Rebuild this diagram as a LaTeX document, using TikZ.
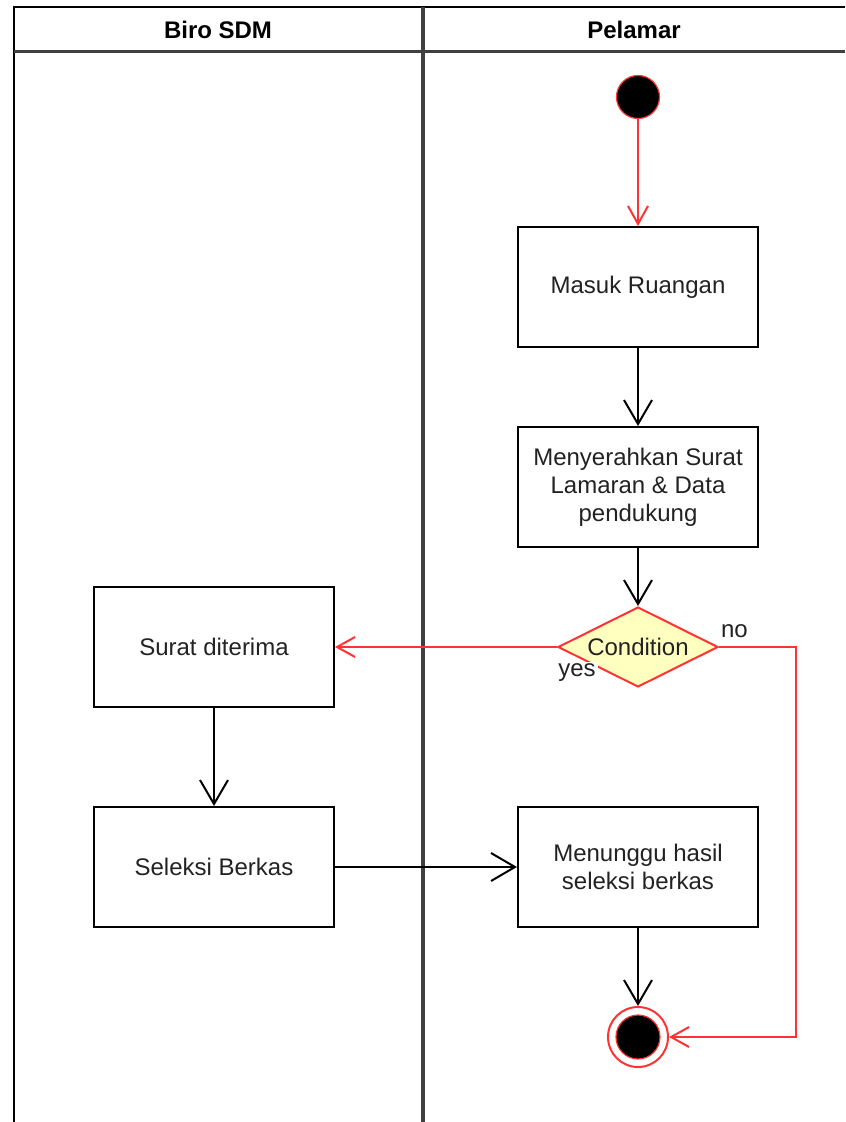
\documentclass[tikz,border=0pt]{standalone}
\usepackage{fontspec}
\setmainfont{Liberation Sans}
\usetikzlibrary{positioning,shapes.geometric,arrows.meta}
\definecolor{flowred}{RGB}{255,51,51}
\definecolor{condfill}{RGB}{255,255,192}
\definecolor{lanegray}{RGB}{64,64,64}
\definecolor{txtgray}{RGB}{34,34,34}
\newcommand{\txt}{\fontsize{12}{14}\selectfont}

\begin{document}
\begin{tikzpicture}[x=0.5pt,y=-0.5pt,
    act/.style={draw, line width=1pt, minimum width=120pt, minimum height=60pt, align=center, font=\txt, text=txtgray},
    cond/.style={diamond, draw=flowred, fill=condfill, line width=1pt, minimum width=80pt, minimum height=40pt, aspect=2, inner sep=0pt, font=\txt, text=txtgray},
    flowlabel/.style={font=\txt, text=txtgray, fill=white, inner sep=1pt},
    blackflow/.style={draw, line width=1pt, -{Straight Barb[length=12pt,width=14pt,line width=1pt]}},
    redflow/.style={draw=flowred, line width=1pt, -{Straight Barb[length=9pt,width=10pt,line width=1pt]}}]
    \useasboundingbox (0,0) rectangle (845,1122);

    % swimlanes
    \draw[line width=1pt] (14,1122) -- (14,7) -- (845,7);
    \draw[lanegray, line width=1.5pt] (14,52) -- (845,52);
    \draw[lanegray, line width=2pt] (423,7) -- (423,1122);
    \node[font=\txt\bfseries] (biro) at (218,30) {Biro SDM};
    \node[font=\txt\bfseries] (pelamar) at (634,30) {Pelamar};

    % pelamar lane
    \node[circle, fill=black, draw=flowred, line width=0.6pt, minimum size=21.5pt, inner sep=0pt] (start) at (638,97) {};
    \node[act] (masuk) at (638,287) {Masuk Ruangan};
    \node[act] (serah) at (638,487) {Menyerahkan Surat\\Lamaran \& Data\\pendukung};
    \node[cond] (condition) at (638,647) {Condition};
    \node[act] (tunggu) at (638,867) {Menunggu hasil\\seleksi berkas};
    \node[circle, draw=flowred, line width=1pt, minimum size=30pt, inner sep=0pt] (end) at (638,1037) {};
    \fill[black, draw=flowred, line width=0.6pt] (end.center) circle (11pt);

    % biro lane
    \node[act] (terima) at (214,647) {Surat diterima};
    \node[act] (seleksi) at (214,867) {Seleksi Berkas};

    % flows
    \draw[redflow] (start) -- (masuk);
    \draw[blackflow] (masuk) -- (serah);
    \draw[blackflow] (serah) -- (condition);
    \draw[redflow] (condition) -- (terima);
    \node[flowlabel, xshift=10pt, yshift=-13pt] (yes) at (condition.west) {yes};
    \coordinate (turn) at (796,647);
    \draw[redflow] (condition.east) -- node[pos=0.2, above=3pt, flowlabel, fill=none] (no) {no} (turn) |- (end);
    \draw[blackflow] (terima) -- (seleksi);
    \draw[blackflow] (seleksi) -- (tunggu);
    \draw[blackflow] (tunggu) -- (end);
  \end{tikzpicture}
\end{document}
